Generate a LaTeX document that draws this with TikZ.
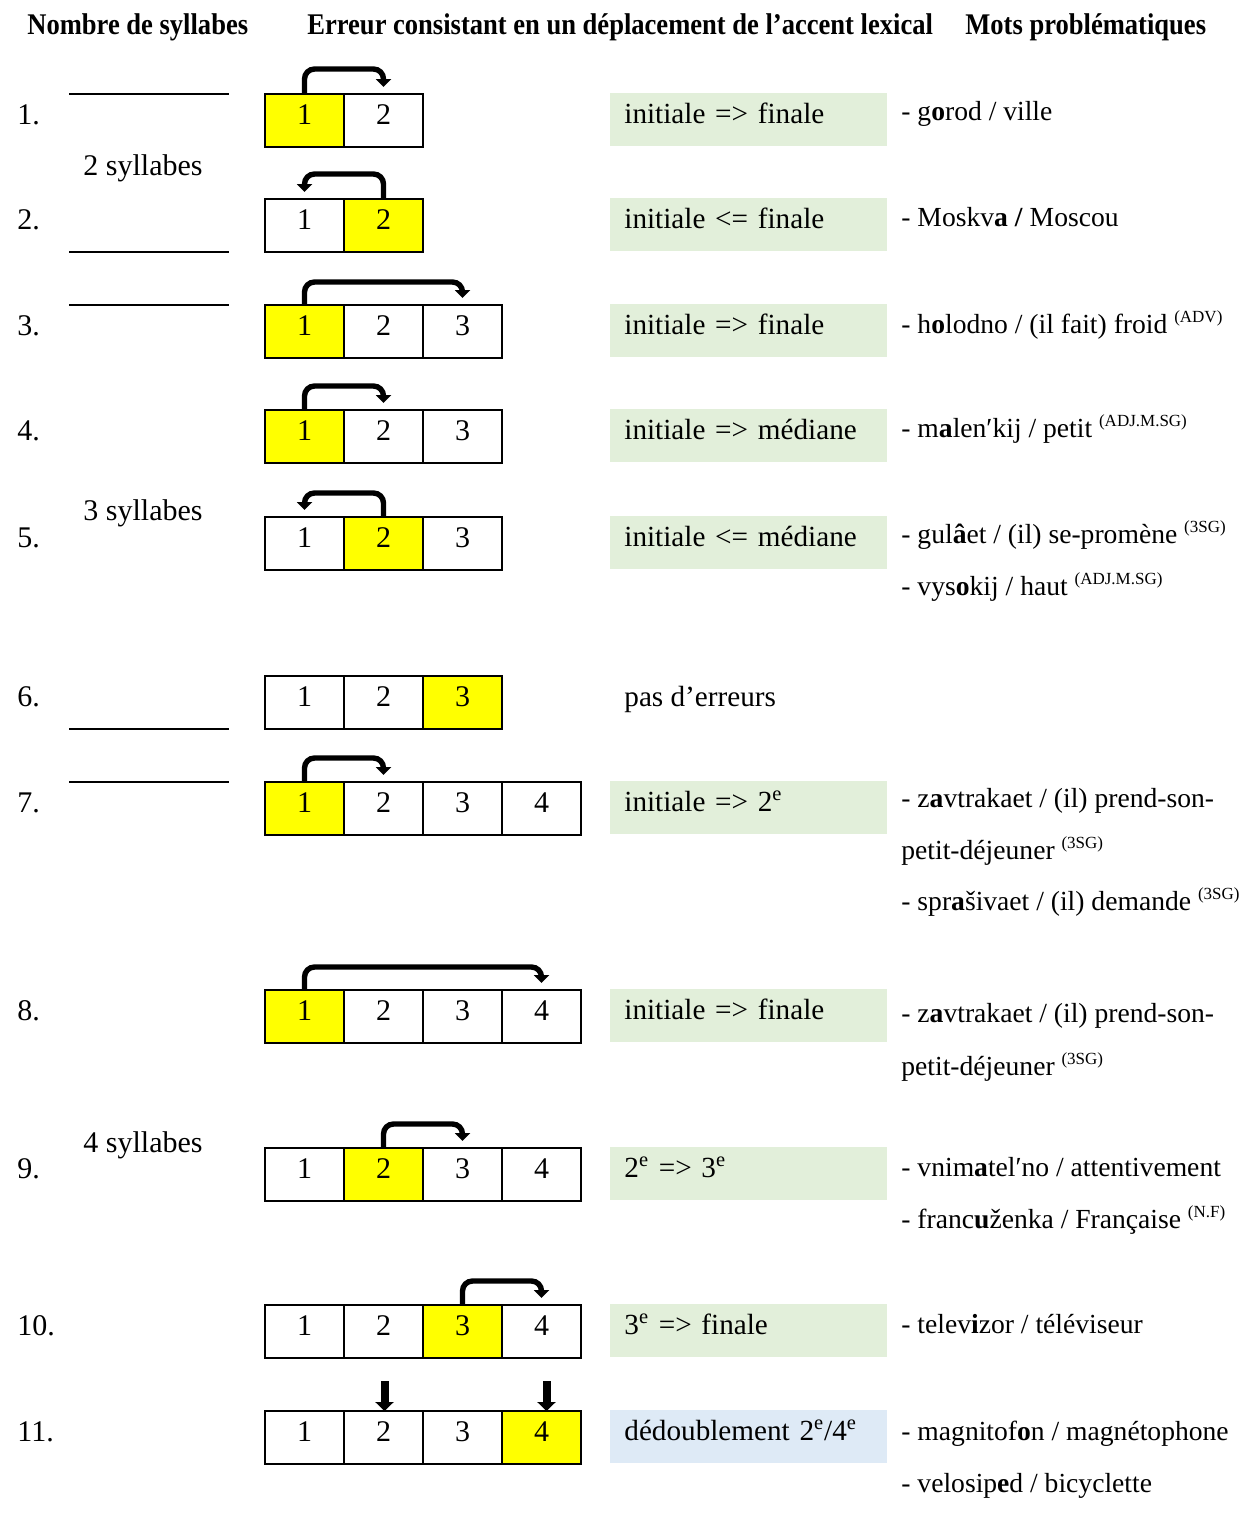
\documentclass[tikz,border=0pt]{standalone}
\usepackage{fontspec}
\setmainfont{Liberation Serif}
\usepackage{tikz}
\usetikzlibrary{positioning,arrows.meta}
\definecolor{stress}{HTML}{FFFF00}
\definecolor{sage}{HTML}{E2EFDA}
\definecolor{sky}{HTML}{DEEAF6}
\newcommand{\gloss}[1]{\raisebox{5.5pt}{\fontsize{8.5}{10}\selectfont #1}}
\tikzset{
  base/.style={font=\fontsize{15}{18}\selectfont},
  head/.style={font=\fontsize{15}{18}\selectfont\bfseries, anchor=base west, inner sep=0pt},
  num/.style={base, anchor=base west, inner sep=0pt},
  word/.style={font=\fontsize{13.8}{16}\selectfont, anchor=base west, inner sep=0pt},
  cell/.style={base, draw, line width=1pt, anchor=north west, inner sep=0pt, outer sep=0pt,
    minimum width=39.5pt, text height=15pt, text depth=11.5pt},
  hl/.style={cell, fill=stress},
  tag/.style={font=\fontsize{14.6}{17}\selectfont, fill=sage, anchor=north west,
    inner xsep=7pt, inner ysep=0pt, text width=124.5pt, align=left,
    text height=15pt, text depth=11.5pt},
  rule/.style={draw=black, line width=1pt},
  stressmove/.style={draw=black, line width=2.7pt, rounded corners=5pt,
    -{Triangle[width=7.5pt,length=4pt]}},
  stressmark/.style={draw=black, line width=4pt, -{Triangle[width=9pt,length=4.5pt]}}
}

\begin{document}
\begin{tikzpicture}[x=0.5pt, y=-0.5pt, node distance=0pt]
  % 1 unit = 1 px of the table
  \useasboundingbox (0,0) rectangle (1243,1517);

  % column heads
  \node[head] (hsyl) at (27,34) {\scalebox{0.885}[1]{Nombre de syllabes}};
  \node[head] (herr) at (307,34) {\scalebox{0.885}[1]{Erreur consistant en un déplacement de l’accent lexical}};
  \node[head] (hmot) at (965,34) {\scalebox{0.885}[1]{Mots problématiques}};

  % syllable groups
  \draw[rule] (69,94) -- (229,94);
  \draw[rule] (69,252) -- (229,252);
  \draw[rule] (69,305) -- (229,305);
  \draw[rule] (69,729) -- (229,729);
  \draw[rule] (69,782) -- (229,782);
  \node[num] (g2) at (83,175) {2 syllabes};
  \node[num] (g3) at (83,520) {3 syllabes};
  \node[num] (g4) at (83,1152) {4 syllabes};

  % 1.
  \node[num] (n1) at (17,124) {1.};
  \node[hl] (r1a) at (265,94) {1};
  \node[cell, right=of r1a] (r1b) {2};
  \draw[stressmove] (r1a.north) -- ++(0,-25) -| ([yshift=3.5pt]r1b.north);
  \node[tag] (t1) at (610,93) {initiale => finale};
  \node[word] (w1) at (901,120) {- g\textbf{o}rod / ville};

  % 2.
  \node[num] (n2) at (17,229) {2.};
  \node[cell] (r2a) at (265,199) {1};
  \node[hl, right=of r2a] (r2b) {2};
  \draw[stressmove] (r2b.north) -- ++(0,-25) -| ([yshift=3.5pt]r2a.north);
  \node[tag] (t2) at (610,198) {initiale <= finale};
  \node[word] (w2) at (901,226) {- Moskv\textbf{a /} Moscou};

  % 3.
  \node[num] (n3) at (17,335) {3.};
  \node[hl] (r3a) at (265,305) {1};
  \node[cell, right=of r3a] (r3b) {2};
  \node[cell, right=of r3b] (r3c) {3};
  \draw[stressmove] (r3a.north) -- ++(0,-23) -| ([yshift=3.5pt]r3c.north);
  \node[tag] (t3) at (610,304) {initiale => finale};
  \node[word] (w3) at (901,333) {- h\textbf{o}lodno / (il fait) froid \gloss{(ADV)}};

  % 4.
  \node[num] (n4) at (17,440) {4.};
  \node[hl] (r4a) at (265,410) {1};
  \node[cell, right=of r4a] (r4b) {2};
  \node[cell, right=of r4b] (r4c) {3};
  \draw[stressmove] (r4a.north) -- ++(0,-24) -| ([yshift=3.5pt]r4b.north);
  \node[tag] (t4) at (610,409) {initiale => médiane};
  \node[word] (w4) at (901,437) {- m\textbf{a}len′kij / petit \gloss{(ADJ.M.SG)}};

  % 5.
  \node[num] (n5) at (17,547) {5.};
  \node[cell] (r5a) at (265,517) {1};
  \node[hl, right=of r5a] (r5b) {2};
  \node[cell, right=of r5b] (r5c) {3};
  \draw[stressmove] (r5b.north) -- ++(0,-24) -| ([yshift=3.5pt]r5a.north);
  \node[tag] (t5) at (610,516) {initiale <= médiane};
  \node[word] (w5) at (901,543) {- gul\textbf{â}et / (il) se-promène \gloss{(3SG)}};
  \node[word] (w5b) at (901,595) {- vys\textbf{o}kij / haut \gloss{(ADJ.M.SG)}};

  % 6.
  \node[num] (n6) at (17,706) {6.};
  \node[cell] (r6a) at (265,676) {1};
  \node[cell, right=of r6a] (r6b) {2};
  \node[hl, right=of r6b] (r6c) {3};
  \node[num, font=\fontsize{14.6}{17}\selectfont] (t6) at (624,706) {pas d’erreurs};

  % 7.
  \node[num] (n7) at (17,812) {7.};
  \node[hl] (r7a) at (265,782) {1};
  \node[cell, right=of r7a] (r7b) {2};
  \node[cell, right=of r7b] (r7c) {3};
  \node[cell, right=of r7c] (r7d) {4};
  \draw[stressmove] (r7a.north) -- ++(0,-24) -| ([yshift=3.5pt]r7b.north);
  \node[tag] (t7) at (610,781) {initiale => 2\textsuperscript{e}};
  \node[word] (w7) at (901,807) {- z\textbf{a}vtrakaet / (il) prend-son-};
  \node[word] (w7b) at (901,859) {petit-déjeuner \gloss{(3SG)}};
  \node[word] (w7c) at (901,910) {- spr\textbf{a}šivaet / (il) demande \gloss{(3SG)}};

  % 8.
  \node[num] (n8) at (17,1020) {8.};
  \node[hl] (r8a) at (265,990) {1};
  \node[cell, right=of r8a] (r8b) {2};
  \node[cell, right=of r8b] (r8c) {3};
  \node[cell, right=of r8c] (r8d) {4};
  \draw[stressmove] (r8a.north) -- ++(0,-23) -| ([yshift=3.5pt]r8d.north);
  \node[tag] (t8) at (610,989) {initiale => finale};
  \node[word] (w8) at (901,1022) {- z\textbf{a}vtrakaet / (il) prend-son-};
  \node[word] (w8b) at (901,1075) {petit-déjeuner \gloss{(3SG)}};

  % 9.
  \node[num] (n9) at (17,1178) {9.};
  \node[cell] (r9a) at (265,1148) {1};
  \node[hl, right=of r9a] (r9b) {2};
  \node[cell, right=of r9b] (r9c) {3};
  \node[cell, right=of r9c] (r9d) {4};
  \draw[stressmove] (r9b.north) -- ++(0,-24) -| ([yshift=3.5pt]r9c.north);
  \node[tag] (t9) at (610,1147) {2\textsuperscript{e} => 3\textsuperscript{e}};
  \node[word] (w9) at (901,1176) {- vnim\textbf{a}tel′no / attentivement};
  \node[word] (w9b) at (901,1228) {- franc\textbf{u}ženka / Française \gloss{(N.F)}};

  % 10.
  \node[num] (n10) at (17,1335) {10.};
  \node[cell] (r10a) at (265,1305) {1};
  \node[cell, right=of r10a] (r10b) {2};
  \node[hl, right=of r10b] (r10c) {3};
  \node[cell, right=of r10c] (r10d) {4};
  \draw[stressmove] (r10c.north) -- ++(0,-24) -| ([yshift=3.5pt]r10d.north);
  \node[tag] (t10) at (610,1304) {3\textsuperscript{e} => finale};
  \node[word] (w10) at (901,1333) {- telev\textbf{i}zor / téléviseur};

  % 11.
  \node[num] (n11) at (17,1441) {11.};
  \node[cell] (r11a) at (265,1411) {1};
  \node[cell, right=of r11a] (r11b) {2};
  \node[cell, right=of r11b] (r11c) {3};
  \node[hl, right=of r11c] (r11d) {4};
  \coordinate (m11b) at ([xshift=0.5pt,yshift=15pt]r11b.north);
  \coordinate (m11d) at ([xshift=2.5pt,yshift=15pt]r11d.north);
  \draw[stressmark] (m11b) -- ([xshift=0.5pt]r11b.north);
  \draw[stressmark] (m11d) -- ([xshift=2.5pt]r11d.north);
  \node[tag, fill=sky] (t11) at (610,1410) {dédoublement 2\textsuperscript{e}/4\textsuperscript{e}};
  \node[word] (w11) at (901,1440) {- magnitof\textbf{o}n / magnétophone};
  \node[word] (w11b) at (901,1492) {- velosip\textbf{e}d / bicyclette};
\end{tikzpicture}
\end{document}
